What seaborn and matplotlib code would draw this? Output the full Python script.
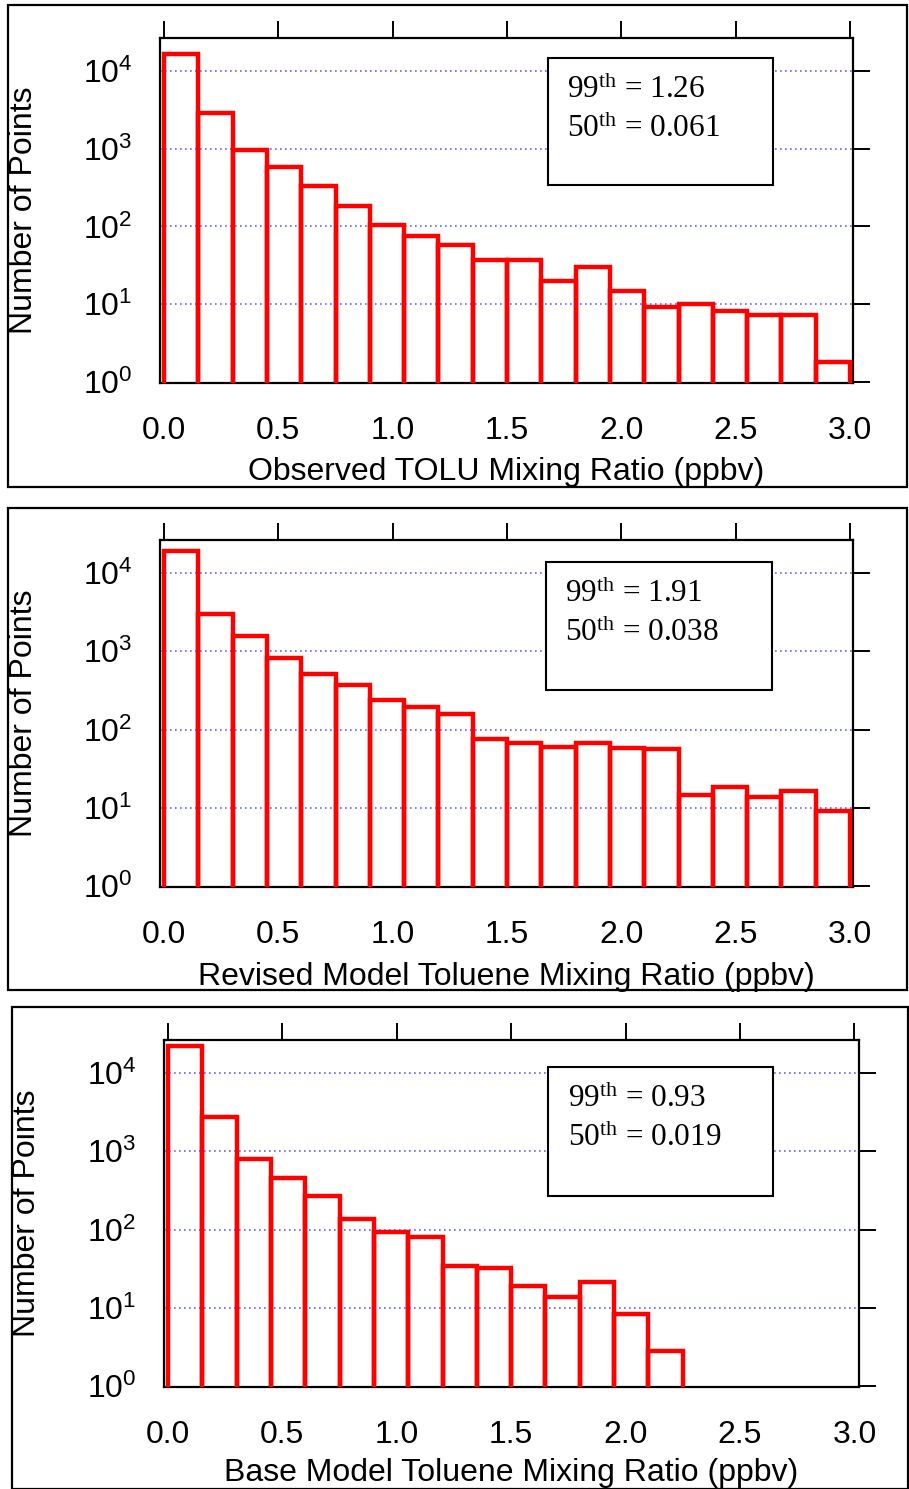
import numpy as np
import pandas as pd
import matplotlib
matplotlib.use("Agg")
import matplotlib.pyplot as plt
from matplotlib.patches import Rectangle
import seaborn as sns

# ---------------- data ----------------
bin_width = 0.15
obs_counts = [16400, 2900, 960, 586, 331, 183, 104, 76, 58, 37,
              37, 19.6, 30, 14.6, 9.3, 10, 8.2, 7.3, 7.3, 1.83]
rev_counts = [19300, 3010, 1590, 822, 518, 374, 242, 195, 160, 76,
              67, 59, 67, 58, 57, 14.5, 18.2, 13.7, 16.4, 9.2]
base_counts = [22400, 2730, 789, 455, 267, 137, 94, 80, 34.5, 32.6,
               19.2, 13.7, 21.5, 8.3, 2.8]

xlabels = ["Observed TOLU Mixing Ratio (ppbv)",
           "Revised Model Toluene Mixing Ratio (ppbv)",
           "Base Model Toluene Mixing Ratio (ppbv)"]
p99 = ["1.26", "1.91", "0.93"]
p50 = ["0.061", "0.038", "0.019"]
xticks = [0.0, 0.5, 1.0, 1.5, 2.0, 2.5, 3.0]
xticklabels = ["0.0", "0.5", "1.0", "1.5", "2.0", "2.5", "3.0"]
yticks = [1, 10, 100, 1000, 10000]
yticklabels = [r"$10^{0}$", r"$10^{1}$", r"$10^{2}$", r"$10^{3}$", r"$10^{4}$"]

# ---------------- style ----------------
sns.set_style("white")
plt.rcParams["font.family"] = ["Liberation Sans", "DejaVu Sans"]
plt.rcParams["mathtext.default"] = "regular"
plt.rcParams["mathtext.fontset"] = "custom"
for key in ["text.color", "axes.labelcolor", "xtick.color", "ytick.color"]:
    plt.rcParams[key] = "black"

W, H = 909, 1489
fig = plt.figure(figsize=(W / 100, H / 100), dpi=100)

# axes rectangles in pixels: left, right, top, bottom
ax_px = [(160, 853, 38, 383), (160, 853, 540, 887), (164, 859, 1040, 1387)]
panel_px = [(8, 907, 5, 487), (8, 907, 508, 990), (12, 908, 1007, 1488.5)]
xlims = [(-0.0175, 3.013), (-0.0175, 3.013), (-0.017, 3.02)]
xlabel_y = [-0.215, -0.215, -0.205]
box_frac = [(0.56, 0.885, 0.942, 0.574),
            (0.557, 0.883, 0.937, 0.568),
            (0.553, 0.876, 0.922, 0.55)]

all_counts = [obs_counts, rev_counts, base_counts]
serif = ["Liberation Serif", "DejaVu Serif"]

for i in range(3):
    # panel border
    l, r, t, b = panel_px[i]
    fig.add_artist(Rectangle((l / W, 1 - b / H), (r - l) / W, (b - t) / H,
                             transform=fig.transFigure, fill=False,
                             edgecolor="black", linewidth=1.6, zorder=0))
    al, ar, at, ab = ax_px[i]
    ax = fig.add_axes([al / W, 1 - ab / H, (ar - al) / W, (ab - at) / H])

    counts = np.array(all_counts[i], dtype=float)
    n = len(counts)
    centers = (np.arange(n) + 0.5) * bin_width
    df = pd.DataFrame({"x": centers, "w": counts})

    ax.set_yscale("log")
    sns.histplot(data=df, x="x", weights="w", binwidth=bin_width,
                 binrange=(0, n * bin_width), element="bars",
                 fill=False, color="#ff0000", linewidth=3.2, ax=ax, zorder=3)

    ax.set_xlim(*xlims[i])
    ax.set_ylim(0.97, 26500)
    ax.set_xticks(xticks)
    ax.set_xticklabels(xticklabels)
    ax.set_yticks(yticks)
    ax.set_yticklabels(yticklabels)
    ax.yaxis.set_minor_locator(matplotlib.ticker.NullLocator())
    ax.tick_params(axis="both", which="major", direction="out", length=12,
                   width=1.4, color="black", labelcolor="black", labelsize=23,
                   pad=12, top=True, right=True, labeltop=False,
                   labelright=False)
    ax.tick_params(axis="y", pad=8)

    # gridlines at decades
    for yv in yticks[1:]:
        ax.axhline(yv, color="#6262ff", linestyle=(0, (1, 2)), linewidth=1.2,
                   zorder=1)

    for sp in ax.spines.values():
        sp.set_color("black")
        sp.set_linewidth(1.6)

    ax.set_xlabel(xlabels[i], fontsize=23, color="black")
    ax.set_ylabel("Number of Points", fontsize=23, color="black")
    ax.xaxis.set_label_coords(0.5, xlabel_y[i])
    ax.yaxis.set_label_coords(-0.175, 0.5)

    # percentile box
    bl, br, bt, bb = box_frac[i]
    ax.add_patch(Rectangle((bl, bb), br - bl, bt - bb, transform=ax.transAxes,
                           facecolor="white", edgecolor="black",
                           linewidth=1.5, zorder=5))
    tx = bl + 0.028
    ax.text(tx, bt - 0.115, r"$99^{th}$ = " + p99[i], transform=ax.transAxes,
            family=serif, fontsize=22.5, va="baseline", ha="left", zorder=6,
            color="black")
    ax.text(tx, bt - 0.228, r"$50^{th}$ = " + p50[i], transform=ax.transAxes,
            family=serif, fontsize=22.5, va="baseline", ha="left", zorder=6,
            color="black")

fig.savefig("out.png", dpi=100, facecolor="white")
